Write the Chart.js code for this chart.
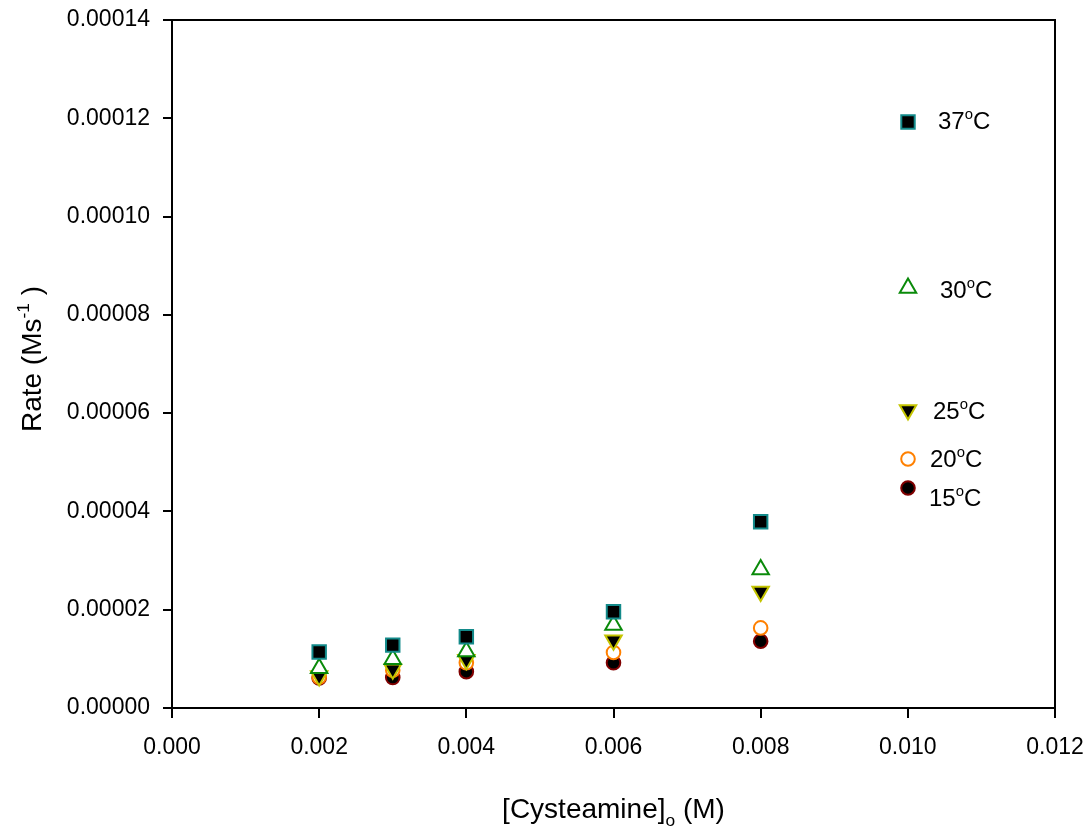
<!DOCTYPE html>
<html><head><meta charset="utf-8">
<script src="https://cdn.jsdelivr.net/npm/chart.js@4/dist/chart.umd.min.js"></script>
<style>html,body{margin:0;padding:0;background:#fff}</style>
</head><body>
<canvas id="c" width="1086" height="827" style="width:1086px;height:827px;display:block"></canvas>
<script>
// ---- data ----
const concentrations = [0.002, 0.003, 0.004, 0.006, 0.008];
const rate37 = [1.14e-5, 1.28e-5, 1.45e-5, 1.96e-5, 3.79e-5];
const rate30 = [0.81e-5, 0.99e-5, 1.15e-5, 1.69e-5, 2.82e-5];
const rate25 = [0.65e-5, 0.79e-5, 0.98e-5, 1.38e-5, 2.37e-5];
const rate20 = [0.63e-5, 0.77e-5, 0.92e-5, 1.13e-5, 1.63e-5];
const rate15 = [0.61e-5, 0.62e-5, 0.74e-5, 0.92e-5, 1.36e-5];
const seriesLabels = ['37', '30', '25', '20', '15'];
const xTicks = [0, 0.002, 0.004, 0.006, 0.008, 0.010, 0.012];
const yTicks = [0, 0.00002, 0.00004, 0.00006, 0.00008, 0.00010, 0.00012, 0.00014];

const FONT = "'Liberation Sans', Arial, sans-serif";

const styles = [
  {pointStyle:'rect', radius:9.5, rotation:0, bg:'#000000', border:'#138a8a', bw:2},
  {pointStyle:'triangle', radius:9.5, rotation:0, bg:'#ffffff', border:'#0a8a0a', bw:2},
  {pointStyle:'triangle', radius:9.5, rotation:180, bg:'#000000', border:'#c4c400', bw:2},
  {pointStyle:'circle', radius:6.8, rotation:0, bg:'#ffffff', border:'#ff8000', bw:2},
  {pointStyle:'circle', radius:6.8, rotation:0, bg:'#000000', border:'#800000', bw:2}
];
const allRates = [rate37, rate30, rate25, rate20, rate15];

const datasets = allRates.map((vals, i) => ({
  label: seriesLabels[i] + '\u00B0C',
  data: concentrations.map((x, j) => ({x: x, y: vals[j]})),
  showLine: false,
  pointStyle: styles[i].pointStyle,
  pointRadius: styles[i].radius,
  pointRotation: styles[i].rotation,
  pointBackgroundColor: styles[i].bg,
  pointBorderColor: styles[i].border,
  pointBorderWidth: styles[i].bw,
  pointHoverRadius: styles[i].radius
}));

function richWidth(ctx, parts, size) {
  let w = 0;
  parts.forEach(p => {
    ctx.font = (p.s ? size * 0.62 : size) + 'px ' + FONT;
    w += ctx.measureText(p.t).width;
  });
  return w;
}
function drawRich(ctx, parts, x, y, size, align) {
  let w = richWidth(ctx, parts, size);
  let cx = align === 'center' ? x - w / 2 : x;
  ctx.textBaseline = 'alphabetic';
  ctx.textAlign = 'left';
  ctx.fillStyle = '#000';
  parts.forEach(p => {
    const fs = p.s ? size * 0.62 : size;
    ctx.font = fs + 'px ' + FONT;
    let dy = 0;
    if (p.s === 1) dy = -size * 0.42;
    if (p.s === -1) dy = size * 0.28;
    ctx.fillText(p.t, cx, y + dy);
    cx += ctx.measureText(p.t).width;
  });
}

function drawMarker(ctx, st, x, y) {
  ctx.save();
  ctx.fillStyle = st.bg; ctx.strokeStyle = st.border; ctx.lineWidth = st.bw;
  ctx.beginPath();
  const r = st.radius;
  if (st.pointStyle === 'rect') {
    const s = Math.SQRT1_2 * r;
    ctx.rect(x - s, y - s, 2 * s, 2 * s);
  } else if (st.pointStyle === 'triangle') {
    let rad = st.rotation * Math.PI / 180;
    ctx.moveTo(x + Math.sin(rad) * r, y - Math.cos(rad) * r);
    rad += 2 * Math.PI / 3;
    ctx.lineTo(x + Math.sin(rad) * r, y - Math.cos(rad) * r);
    rad += 2 * Math.PI / 3;
    ctx.lineTo(x + Math.sin(rad) * r, y - Math.cos(rad) * r);
    ctx.closePath();
  } else {
    ctx.arc(x, y, r, 0, Math.PI * 2);
  }
  ctx.fill(); ctx.stroke();
  ctx.restore();
}

const legendLayout = [
  {mx: 908, my: 122, tx: 938, ty: 129},
  {mx: 908, my: 288, tx: 940, ty: 298},
  {mx: 908, my: 410, tx: 933, ty: 419},
  {mx: 908, my: 459, tx: 930, ty: 467},
  {mx: 908, my: 488, tx: 929, ty: 506}
];

const decorPlugin = {
  id: 'decor',
  afterDraw(chart) {
    const ctx = chart.ctx;
    const a = chart.chartArea;
    ctx.save();
    ctx.strokeStyle = '#000'; ctx.lineWidth = 2;
    ctx.beginPath();
    ctx.moveTo(a.left, a.top); ctx.lineTo(a.right, a.top); ctx.lineTo(a.right, a.bottom);
    ctx.stroke();
    legendLayout.forEach((L, i) => {
      drawMarker(ctx, styles[i], L.mx, L.my);
      drawRich(ctx, [{t: seriesLabels[i]}, {t: 'o', s: 1}, {t: 'C'}], L.tx, L.ty, 24, 'left');
    });
    drawRich(ctx, [{t: '[Cysteamine]'}, {t: 'o', s: -1}, {t: ' (M)'}], (a.left + a.right) / 2, 818, 28, 'center');
    ctx.save();
    ctx.translate(41, (a.top + a.bottom) / 2 - 5);
    ctx.rotate(-Math.PI / 2);
    drawRich(ctx, [{t: 'Rate (Ms'}, {t: '-1', s: 1}, {t: ' )'}], 0, 0, 28, 'center');
    ctx.restore();
    ctx.restore();
  }
};

new Chart(document.getElementById('c'), {
  type: 'scatter',
  data: {datasets: datasets},
  plugins: [decorPlugin],
  options: {
    responsive: false,
    animation: false,
    events: [],
    layout: {padding: {top: 20, right: 31, left: 0, bottom: 0}},
    plugins: {legend: {display: false}, tooltip: {enabled: false}},
    scales: {
      x: {
        type: 'linear', min: 0, max: 0.012,
        afterFit(s) { s.height = 119; s.paddingLeft = 0; s.paddingRight = 0; },
        afterBuildTicks(s) { s.ticks = xTicks.map(v => ({value: v})); },
        grid: {drawOnChartArea: false, drawTicks: true, tickLength: 10, color: '#000', lineWidth: 2},
        border: {display: true, color: '#000', width: 2},
        ticks: {font: {family: FONT, size: 23}, color: '#000', padding: 16, maxRotation: 0,
          callback: v => Number(v).toFixed(3)}
      },
      y: {
        type: 'linear', min: 0, max: 0.00014,
        afterFit(s) { s.width = 172; s.paddingTop = 0; s.paddingBottom = 0; },
        afterBuildTicks(s) { s.ticks = yTicks.map(v => ({value: v})); },
        grid: {drawOnChartArea: false, drawTicks: true, tickLength: 9, color: '#000', lineWidth: 2},
        border: {display: true, color: '#000', width: 2},
        ticks: {font: {family: FONT, size: 23}, color: '#000', padding: 13,
          callback: v => Number(v).toFixed(5)}
      }
    }
  }
});
</script>
</body></html>
